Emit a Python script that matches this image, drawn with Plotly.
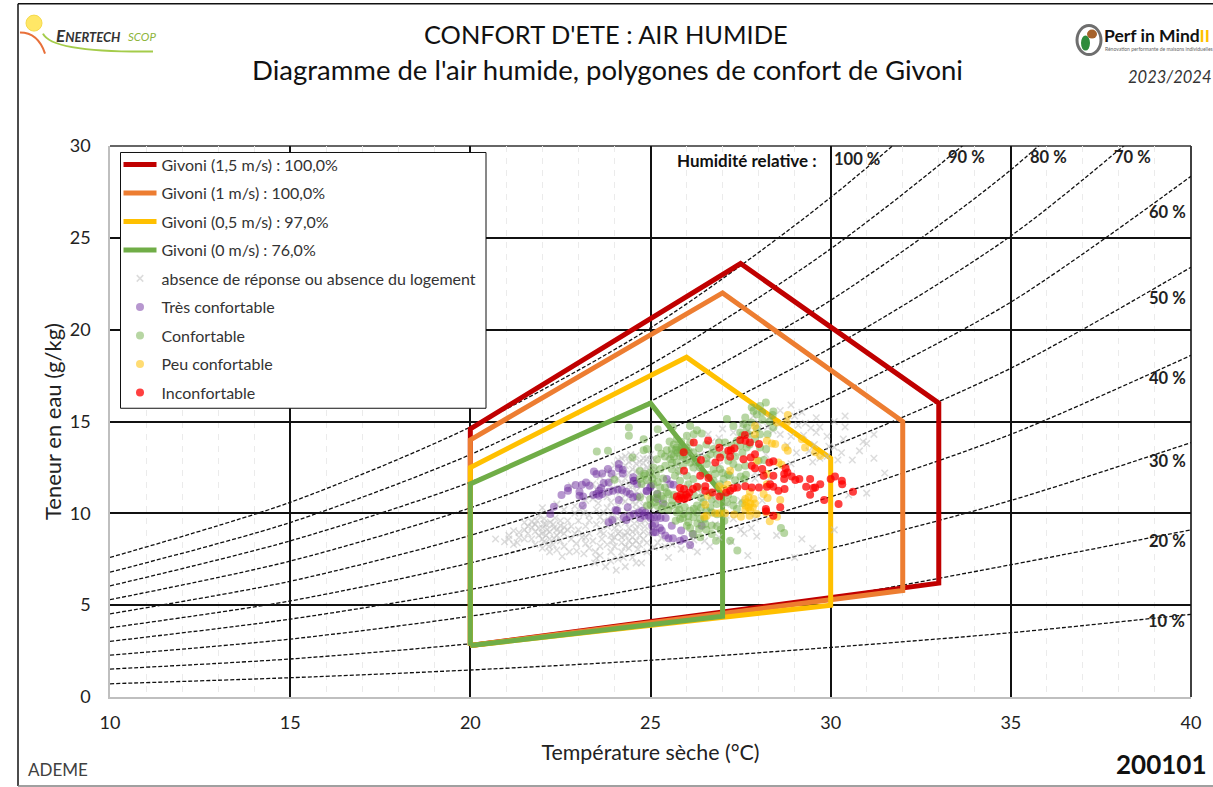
import plotly.graph_objects as go

# ---- data ----
T_NODES = [10, 15, 20, 25, 30, 35, 40]
RH_CURVES = {
    "100": [7.6, 10.6, 14.7, 20.1, 27.2, 35.9, 47.3],
    "90": [6.8, 9.5, 13.2, 18.1, 24.4, 32.3, 42.6],
    "80": [6.05, 8.5, 11.7, 16.1, 21.6, 28.7, 37.9],
    "70": [5.3, 7.4, 10.3, 14.1, 19.0, 25.1, 33.1],
    "60": [4.53, 6.3, 8.8, 12.1, 16.3, 21.5, 28.35],
    "50": [3.77, 5.23, 7.3, 10.0, 13.6, 17.9, 23.4],
    "40": [3.03, 4.24, 5.85, 8.0, 10.9, 14.3, 18.6],
    "30": [2.28, 3.15, 4.4, 6.0, 8.1, 10.7, 13.85],
    "20": [1.52, 2.07, 2.9, 4.0, 5.4, 7.2, 9.1],
    "10": [0.72, 1.05, 1.47, 2.0, 2.7, 3.5, 4.5],
}

GIVONI_15_T = [20, 33, 33, 27.5, 20, 20]
GIVONI_15_W = [2.8, 6.2, 16, 23.6, 14.6, 2.8]
GIVONI_10_T = [20, 32, 32, 27, 20, 20]
GIVONI_10_W = [2.8, 5.8, 15, 22, 14, 2.8]
GIVONI_05_T = [20, 30, 30, 26, 20, 20]
GIVONI_05_W = [2.8, 5, 13, 18.5, 12.5, 2.8]
GIVONI_00_T = [20, 27, 27, 25, 20, 20]
GIVONI_00_W = [2.8, 4.4, 11, 16, 11.6, 2.8]

GRAY = [(21.07,8.8),(21.07,8.6),(21.35,8.7),(21.35,8.96),(21.71,9.24),(21.85,9.6),(22.04,9.42),(22.22,9.51),(22.5,9.33),(22.6,9.24),
(21.99,8.9),(22.13,9.1),(22.32,9.2),(21.9,8.8),(22.04,8.45),(22.18,8.2),(22.32,8.64),(22.5,9),(22.75,7.9),(22.94,8.35),(23.2,8.35),
(23.15,7.8),(23.47,7.9),(23.5,7.55),(23.75,7.1),(24.05,6.9),(24.3,7.1),(23.45,7.3),(23.65,8.6),(23.95,8.5),(24.2,8.4),(24.35,8.95),
(24.15,9),(24.6,9.1),(24.85,9.3),(25.05,8.95),(24.5,8.7),(24.8,8.6),(24.4,8.1),(24.65,8.05),(24.5,7.6),(23.0,9.6),(23.3,9.9),(23.6,9.8),
(23.1,10.3),(23.8,9.3),(24.0,9.2),(24.1,7.5),(22.8,8.6),(22.4,8.0),(21.6,9.3),(22.7,9.6),(23.3,8.9),(23.6,9),(24.3,9.5),(23.9,9.9),
(25.2,8.4),(25.4,8.2),(25.5,7.6),(24.9,7.9),(24.75,7.3),(22.2,7.9),(21.9,9.9),(21.2,8.3),(20.7,8.6),
(24.0,12.6),(24.2,13),(24.4,12.8),(24.6,12.7),(24.8,13),(25,12.9),(24.2,12.3),(24.5,12.4),(24.7,12.2),(24.9,12.5),(24.3,11.9),(24.5,11.5),
(24.9,11.7),(23.8,12.3),(23.6,12),(23.4,11.6),(24,11.3),(23.7,11.1),(24.2,10.8),(24.5,10.6),(23.4,10.8),(23.9,10.6),(24.8,11),(24.6,10.2),
(22.8,11.5),(22.4,10.5),(22.0,10.3),(26.6,14.3),(26.7,13.9),(27,14.6),(26.9,14.1),(27.3,14.4),(28.9,15.9),(29.2,15.5),(29.6,15.2),(30.1,15.0),
(30.4,14.7),(29,15.3),(29.3,14.9),(29.6,14.4),(29.9,14.2),(30.1,13.6),(29.4,13.4),(29.7,13.0),(30.3,13.3),(30.6,12.9),(30.8,13.4),(31,13.8),
(31.2,13),(29.7,14.7),(29.1,14.8),(28.9,14.2),(29.5,12.8),(28.9,12.7),(26.6,12.9),(26.9,12.6),(27.2,12.3),(26.2,12.7),(25.8,12.2),(25.5,11.8),
(26,11.4),(26.4,11.1),(26.8,10.7),(27.1,10.5),(27.5,10.7),(27.9,9.7),(27.6,8.9),(27.5,9.1),(27.8,9.2),(26.9,8.7),(26.1,8.2),(26.3,7.9),(27.7,7.7),
(28.5,8.8),(29.2,8.6),(29.0,7.6),(29.5,8.1),(30.1,9.1),(31,11.1),(31.5,12.2),(30.5,11),(30.9,13.9),(31.2,14.3),(28.6,15.6),(28.3,15.2),(30.4,15.3),
(21.6,8.9),(21.7,8.6),(21.8,9),(21.8,9.4),(21.9,9.2),(22,8.6),(22,9.2),(22.1,8.8),(22.1,9.4),(22.2,8.6),(22.2,9.0),(22.3,9.4),(22.4,8.8),(22.4,9.1),
(22.5,8.5),(22.5,9.6),(22.6,8.9),(22.7,9.1),(21.5,8.6),(21.5,9.1),(21.3,8.4),(22.3,8.3),(22.6,8.2),(22.8,9.3),(22.9,8.9),(23.0,9.1),(23.1,8.7),(23.2,9.3),
(23.7,8.9),(23.8,8.3),(23.9,8.8),(24,8.2),(24,8.7),(24.1,8.9),(24.1,9.4),(24.2,8.7),(24.3,8.2),(24.3,8.8),(24.4,8.5),(24.4,9.2),(24.5,8.3),(24.5,9),
(24.6,8.5),(24.7,8.8),(24.7,8.3),(24.8,9.0),(24.9,8.4),(24.95,8.9),(24.2,7.9),(23.9,7.9),(23.6,8.2),(23.4,8.5),(23.2,8.7),(24.1,9.7),(24.0,9.6),
(24.55,9.45),(24.7,9.4),(24.85,9.6),(23.7,9.6),(23.5,9.4),(23.3,9.6),(23.15,10),(23.5,10.2),(23.8,10.3),(24.1,10.4),(24.35,10.1),(24.6,10.5),(24.8,10.4),(25,10.25),
(24.1,12.9),(24.3,12.6),(24.3,13.1),(24.4,12.2),(24.45,13.2),(24.5,12.9),(24.6,12.3),(24.6,13.15),(24.7,12.8),(24.8,12.4),(24.8,12.75),(24.9,12.95),
(24.95,12.2),(25.0,12.6),(25.0,13.2),(25.1,12.9),(25.15,12.4),(24.1,11.9),(24.2,11.6),(24.4,11.5),(24.6,11.2),(24.75,11.5),(23.9,11.9),(23.8,11.6),
(23.6,11.5),(24.0,12.0),(23.5,11.3),(26.3,12.4),(26.7,13.4),(27.0,13.6),(27.3,13.3),(27.7,14.5),(28.0,14.9),(28.4,14.5),(28.6,14.3),(28.8,13.7),
(28.2,13.2),(27.9,12.2),(27.4,11.5),(27.9,11.9),(28.3,11.9),(28.1,10.7),(27.3,9.7),(27.1,9.9),(26.8,9.4),(26.5,8.5),(30.2,12.9),(29.9,13.1),
(23.2,10.7),(22.9,10.4),(22.6,10.2),(22.9,10),(23.55,10.55),(23.8,10.9),(24.15,11.15),(24.4,11.1),(24.7,10.75),(24.3,10.65),(24.05,10.05),(23.7,10.05),
(22.35,9.75),(22.05,9.7),(21.7,9.55),(21.5,9.5),(21.2,9.05),(20.95,8.45),(21.8,8.3),(22.0,8.1),(22.55,7.65),(22.95,7.95),(23.3,8.1),(23.6,7.7),(23.9,7.4),
(24.25,7.6),(24.6,7.3),(25.1,8.15),(25.3,8.65),(25.6,8.3),(25.85,8.05),(26.2,8.55),(26.65,8.2),(27.25,8.45),(27.95,8.75),(25.5,13.1),(25.7,12.6),(26.1,13.3),
(26.4,13.2),(27.55,14.85),(27.85,15.3),(28.25,14.7),(28.55,14.85),(28.8,15.05),(29.45,14.65),(29.25,14.25),(29.55,13.75),(29.05,13.3),(29.95,13.65),(30.35,14.05)]

PURPLE = [(22.22,9.96),(22.32,10.36),(22.53,11.0),(22.71,11.23),(22.71,11.38),(22.92,11.54),(23.10,11.56),(23.21,11.68),(23.31,11.5),(23.03,11.18),
(23.03,10.96),(23.13,10.92),(23.12,10.43),(23.43,12.28),(23.50,12.14),(23.66,12.17),(23.82,12.41),(23.92,12.17),(24.12,12.68),(24.12,12.45),
(24.23,12.37),(24.23,12.17),(23.70,11.65),(23.84,11.68),(23.41,11.0),(23.50,11.05),(23.57,11.23),(23.63,11.38),(23.57,10.96),(23.66,11.05),
(23.84,11.18),(23.96,11.23),(24.09,11.3),(24.21,11.27),(24.33,11.18),(24.43,11.05),(24.52,10.87),(24.63,10.92),(24.12,10.72),(24.52,11.96),
(24.54,11.78),(24.63,11.6),(24.89,11.23),(25.02,11.5),(25.19,11.05),(25.19,10.78),(25.35,10.54),(23.94,9.64),(23.84,9.51),(24.03,10.18),
(24.07,10.14),(24.26,9.78),(24.37,10.33),(24.43,9.87),(24.33,9.64),(24.54,9.96),(24.68,10.05),(24.77,10.14),(24.86,10.05),(24.95,9.87),
(25.0,9.75),(25.09,9.78),(25.19,9.82),(25.28,9.75),(24.72,9.75),(24.82,9.87),(25.05,9.33),(25.14,8.97),(25.26,9.2),(25.42,9.75),
(25.41,8.79),(25.5,8.64),(25.62,8.64),(25.82,8.51),(25.93,8.6),(26.10,8.28),(25.59,9.33),(25.85,9.06),(26.17,8.88),(26.42,9.33),
(25.13,9.42),(25.08,8.97),(25.31,9.06),(25.55,11.59),(25.64,11.56),(25.45,11.87),(24.53,11.78),(24.9,11.2),(24.99,11.4)]

GREEN = [(24.40,14.67),(24.40,14.22),(23.51,13.37),(23.82,13.41),(24.5,13.04),(24.81,14.04),(24.81,13.44),(24.9,13.5),(25.2,14.58),(25.62,14.71),
(26.1,14.76),(26.29,14.53),(26.01,14.22),(26.2,14.31),(26.42,14.35),(25.73,14.04),(25.53,13.91),(25.22,13.59),(25.45,13.44),(25.59,13.5),
(25.59,13.22),(25.73,13.59),(25.87,13.68),(25.99,13.59),(25.87,13.41),(25.96,13.22),(25.82,13.13),(26.05,13.41),(26.19,13.32),(26.29,13.04),
(25.55,12.95),(25.73,12.77),(25.18,12.95),(25.08,12.5),(25.27,12.41),(24.99,12.23),(24.85,12.14),(24.71,11.87),(24.81,12.05),(25.41,12.59),
(25.59,12.41),(25.78,12.32),(26.01,12.05),(26.19,12.5),(26.1,12.77),(26.38,12.5),(26.56,12.68),(26.75,12.41),(26.93,12.41),(26.66,13.22),
(26.75,13.5),(27.07,13.86),(27.12,15.13),(27.63,15.22),(27.58,14.86),(27.67,14.67),(27.81,15.76),(27.86,15.58),(28.04,15.85),(28.2,16.03),
(28.41,15.54),(28.39,15.36),(28.04,14.31),(28.25,14.31),(28.41,14.67),(27.49,13.68),(27.72,14.31),(27.4,13.95),(27.49,14.4),(27.67,13.59),
(28.04,13.59),(28.21,13.5),(27.44,12.5),(27.63,12.59),(28,12.86),(27.3,12.68),(27.16,12.86),(27.03,11.87),(26.93,11.59),(26.75,11.78),
(25.27,11.41),(25.08,11.59),(25.18,11.05),(25.36,10.78),(25.5,11.05),(24.99,10.78),(25.13,10.6),(25.31,10.24),(25.59,10.42),(25.73,10.05),
(25.92,9.96),(26.1,10.14),(26.29,10.05),(25.82,9.69),(26.05,9.51),(26.19,9.78),(26.38,9.69),(26.52,9.42),(26.7,9.33),(26.29,10.42),
(26.47,10.6),(26.66,10.33),(26.84,10.51),(27.3,10.42),(27.4,10.24),(26.19,8.88),(26.38,8.7),(26.7,8.88),(26.82,8.51),(27.21,8.51),
(27.41,7.97),(28.62,9.2),(28.71,8.93),(26.66,11.14),(26.33,11.41),(26.05,11.59),(26.19,11.87),(25.82,11.78),(25.68,12.05),(27.12,10.6),
(24,11.83),(24.71,10.87),(24.9,10.42),(26.01,9.33),
(24.7,12.3),(24.75,11.6),(24.9,11.8),(25.05,11.9),(25.15,12.1),(25.2,11.7),(25.35,11.9),(25.4,11.4),(25.45,11.15),(25.3,10.95),(25.15,10.85),(25.0,10.45),
(25.2,10.4),(25.4,10.45),(25.5,10.2),(25.6,10.7),(25.65,11.0),(25.75,10.45),(25.8,10.2),(25.95,10.35),(26.05,9.85),(26.2,10.25),(26.4,10.3),(26.55,10.15),
(26.7,10.05),(26.85,9.95),(26.5,9.7),(26.3,9.45),(25.9,9.75),(25.7,9.6),(26.1,9.2),(26.35,9.15),(26.55,9.1),(26.85,9.3),(27.05,9.6),(26.95,9.1),
(25.6,12.75),(25.9,12.6),(26.0,12.9),(26.25,12.8),(26.45,12.2),(26.6,12.1),(26.8,12.15),(27.0,12.2),(27.15,12.1),(26.55,13.0),(26.85,13.2),(27.05,13.2),
(27.25,13.7),(26.9,13.85),(26.55,13.75),(26.35,13.55),(26.1,13.85),(25.85,13.9),(25.65,13.75),(25.95,13.5),(25.75,13.3),(25.65,13.1),(25.9,13.05),(25.4,13.1),
(25.3,13.25),(25.85,13.55),(25.8,13.45),(25.7,13.45),(27.35,13.1),(27.55,13.3),(27.75,13.75),(27.9,14.05),(27.95,14.6),(27.8,14.95),(27.55,14.25),(27.3,14.75),
(28.1,15.1),(28.3,15.0),(27.95,15.4),(28.1,15.5),(26.95,11.0),(27.15,11.0),(27.3,10.75),(27.55,10.55),(26.2,11.0),(26.4,10.85),(26.7,10.75),(25.9,11.0),
(27.5,12.0),(27.65,12.1),(27.2,12.05),(27.35,11.8),(27.6,11.85),(28.15,12.9)]

YELLOW = [(26.56,9.87),(26.49,9.82),(26.79,10),(26.91,10),(27.07,10),(27.32,9.93),(27.51,9.82),(27.75,9.87),(27.95,9.96),(27.63,10.78),
(27.72,10.87),(27.86,10.78),(27.67,10.6),(27.77,10.54),(27.9,10.54),(27.63,10.42),(27.72,10.33),(27.84,10.33),(27.63,10.18),(27.77,10.14),
(28.21,10.05),(28.31,9.57),(28.51,9.82),(26.52,10.47),(26.59,10.96),(27.21,12.32),(27.14,11.56),(27.03,11.32),(26.91,11.47),(27.76,11.18),
(28.23,11.59),(28.14,11.05),(28.25,10.83),(28.6,10.72),(27.9,14.76),(28.81,15.36),(28.78,14.95),(28.51,14.95),(28.23,13.95),(28.37,13.8),
(28.46,13.77),(28.74,13.59),(28.81,13.41),(27.90,14.31),(27.95,12.86),(28.55,12.77),(28.64,12.64),(28.23,12.14),(29.57,13.32),(29.71,13.13),
(29.29,13.59),(29.20,14.04)]

RED = [(25.92,13.33),(26.20,13.86),(26.60,13.97),(26.40,12.90),(25.93,12.32),(26.91,13.57),(27.16,13.41),(27.23,13.44),(27.33,13.55),(27.21,13.08),
(26.93,13.04),(26.80,12.77),(27.49,13.99),(27.62,14.26),(27.63,13.95),(27.76,13.86),(28.01,13.77),(27.90,13.22),(27.78,13.04),(27.58,12.95),
(27.81,12.59),(27.90,12.46),(28.10,12.41),(28.30,12.77),(28.41,12.83),(28.14,12.05),(28.41,12.05),(28.75,12.46),(28.80,12.23),(28.71,12.14),
(28.71,11.87),(28.92,12.01),(29.02,11.81),(29.13,11.87),(29.43,11.87),(29.32,11.45),(29.52,11.38),(29.57,11.41),(29.71,11.58),(29.43,11.01),
(29.82,10.72),(30.00,11.87),(30.12,12.01),(30.31,11.78),(30.32,11.59),(30.22,10.51),(30.62,11.18),(28.32,11.59),(28.41,11.45),(28.55,11.23),
(28.72,11.32),(28.23,11.45),(28.01,11.41),(27.81,11.41),(27.63,11.47),(27.41,11.41),(27.30,11.36),(27.21,11.23),(27.10,11.14),(26.91,10.91),
(26.72,11.14),(26.52,11.47),(26.52,11.23),(26.29,11.45),(26.18,11.32),(26.08,11.14),(25.93,11.32),(25.82,11.38),(25.73,10.91),(25.79,10.78),
(25.87,10.83),(25.94,10.78),(26.03,10.87),(25.84,11.01),(25.99,11.01),(26.61,11.92),(26.38,12.05),(28.20,10.24),(28.21,10.11),(28.60,10.33),(28.41,9.87)]

X_TICKS = [10, 15, 20, 25, 30, 35, 40]
Y_TICKS = [0, 5, 10, 15, 20, 25, 30]

FONT = "Lato"

# placement helpers: pixel of the 1213x787 page -> paper coordinates
L, R, TOP, BOT = 110, 1191, 145.5, 697
def xp(px): return (px - L) / (R - L)
def yp(py): return (BOT - py) / (BOT - TOP)

fig = go.Figure()

for name, vals in RH_CURVES.items():
    fig.add_trace(go.Scatter(x=T_NODES, y=vals, mode="lines", showlegend=False, hoverinfo="skip",
                             line=dict(color="#111111", width=1.3, dash="4px,2px", shape="spline", smoothing=0.8)))

def add_poly(tv, wv, color, name):
    fig.add_trace(go.Scatter(x=tv, y=wv, mode="lines", name=name, legendgroup=name,
                             line=dict(color=color, width=5)))

add_poly(GIVONI_15_T, GIVONI_15_W, "#C00000", "Givoni (1,5 m/s) : 100,0%")
add_poly(GIVONI_10_T, GIVONI_10_W, "#ED7D31", "Givoni (1 m/s) : 100,0%")
add_poly(GIVONI_05_T, GIVONI_05_W, "#FFC000", "Givoni (0,5 m/s) : 97,0%")
add_poly(GIVONI_00_T, GIVONI_00_W, "#70AD47", "Givoni (0 m/s) : 76,0%")

def add_pts(pts, color, name, symbol="circle", size=8, opacity=0.5):
    fig.add_trace(go.Scatter(x=[p[0] for p in pts], y=[p[1] for p in pts], mode="markers", name=name, legendgroup=name,
                             marker=dict(color=color, size=size, symbol=symbol, opacity=opacity, line=dict(width=0))))

add_pts(GRAY, "#BFBFBF", "absence de réponse ou absence du logement", symbol="x-thin-open", size=6.5, opacity=0.55)
fig.data[-1].marker.line = dict(color="#BFBFBF", width=1.5)
add_pts(PURPLE, "#7030A0", "Très confortable", opacity=0.5)
add_pts(GREEN, "#70AD47", "Confortable", opacity=0.5)
add_pts(YELLOW, "#FFC000", "Peu confortable", opacity=0.55)
add_pts(RED, "#FF0000", "Inconfortable", opacity=0.75)

def note(text, px, py, size, color="#111111", anchor="center", bold=False, italic=False, font=FONT):
    t = text
    if bold: t = f"<b>{t}</b>"
    if italic: t = f"<i>{t}</i>"
    return dict(text=t, x=xp(px), y=yp(py), xref="paper", yref="paper", showarrow=False,
                xanchor=anchor, yanchor="middle", font=dict(family=font, size=size, color=color))

ann = [
    note("CONFORT D'ETE : AIR HUMIDE", 606, 33, 25.4),
    note("Diagramme de l'air humide, polygones de confort de Givoni", 607, 69, 27.5),
    note("ADEME", 26, 770, 17, color="#404040", anchor="left"),
    note("200101", 1208, 764, 26, anchor="right", bold=True),
    note("2023/2024", 1213, 76, 16.5, color="#333333", anchor="right", italic=True),
    note("<span style='font-size:17px'>E</span>NERTECH", 54, 35, 13, color="#333333", anchor="left", bold=True, italic=True),
    note("SCOP", 126, 36, 11.5, color="#8DB53C", anchor="left", italic=True),
    note("Perf in Mind<span style='color:#FFC000'>II</span>", 1102, 35, 17.5, anchor="left", bold=True),
    note("Rénovation performante de maisons individuelles", 1103, 48, 5, color="#666666", anchor="left"),
    note("Humidité relative :", 819, 160, 17, anchor="right", bold=True),
]
for lab, px, py in [("100 %", 857, 159), ("90 %", 966, 157), ("80 %", 1048, 157), ("70 %", 1132, 157),
                    ("60 %", 1167, 212), ("50 %", 1167, 298), ("40 %", 1167, 378),
                    ("30 %", 1167, 461), ("20 %", 1167, 541), ("10 %", 1166, 621)]:
    ann.append(note(lab, px, py, 16.5, color="#222222", bold=True))

def line(x0, y0, x1, y1, color, w):
    return dict(type="line", xref="paper", yref="paper", x0=xp(x0), y0=yp(y0), x1=xp(x1), y1=yp(y1),
                line=dict(color=color, width=w), layer="below")

def curve(points, color, w):
    d = "M %.4f %.4f Q %.4f %.4f %.4f %.4f" % (xp(points[0][0]), yp(points[0][1]), xp(points[1][0]), yp(points[1][1]), xp(points[2][0]), yp(points[2][1]))
    return dict(type="path", xref="paper", yref="paper", path=d, line=dict(color=color, width=w), layer="below")

shapes = [
    line(18, 3, 18, 786, "#111111", 1.5),
    line(18, 3, 1213, 3, "#111111", 1.5),
    line(18, 786, 1213, 786, "#808080", 1.5),
    line(R, TOP, R, BOT, "#111111", 1.6),
    line(L, TOP, R, TOP, "#333333", 1.6),
    dict(type="rect", xref="paper", yref="paper", x0=xp(120.5), x1=xp(486), y0=yp(152), y1=yp(408),
         fillcolor="white", line=dict(color="#111111", width=1), layer="above"),
    dict(type="circle", xref="paper", yref="paper", x0=xp(26), x1=xp(42), y0=yp(14.5), y1=yp(30.5),
         fillcolor="#FFE766", line=dict(color="#F5D94A", width=1), layer="below"),
    curve([(20, 32), (38, 32), (45, 53)], "#E8703A", 2),
    curve([(43, 33), (52, 52), (153, 51)], "#A4CC4A", 2),
    dict(type="circle", xref="paper", yref="paper", x0=xp(1077), x1=xp(1101), y0=yp(25), y1=yp(54),
         fillcolor="#FFFFFF", line=dict(color="#6E6E6E", width=3), layer="below"),
    dict(type="circle", xref="paper", yref="paper", x0=xp(1081), x1=xp(1090), y0=yp(35), y1=yp(50),
         fillcolor="#2E8B3C", line=dict(width=0), layer="below"),
    dict(type="circle", xref="paper", yref="paper", x0=xp(1087), x1=xp(1097), y0=yp(29), y1=yp(38),
         fillcolor="#A5622C", line=dict(width=0), layer="below"),
]

fig.update_layout(
    width=1213, height=787, autosize=False,
    margin=dict(l=L, r=1213 - R, t=TOP, b=787 - BOT, pad=0),
    paper_bgcolor="white", plot_bgcolor="white",
    font=dict(family=FONT, color="#222222"),
    annotations=ann, shapes=shapes,
    legend=dict(x=xp(118.5), y=yp(147), xanchor="left", yanchor="top", bgcolor="rgba(0,0,0,0)",
                borderwidth=0, traceorder="grouped", tracegroupgap=4.7,
                itemwidth=33, itemsizing="trace", entrywidth=345,
                font=dict(family=FONT, size=16, color="#333333")),
    xaxis=dict(range=[10, 40], tickvals=X_TICKS, showgrid=True, gridcolor="#111111", gridwidth=1.6,
               zeroline=False, showline=True, linecolor="#BFBFBF", linewidth=1.5, mirror=False, ticks="",
               ticklabelstandoff=9, tickfont=dict(size=18, color="#222222"),
               minor=dict(dtick=1, showgrid=True, gridcolor="#EBEBEB", griddash="6px,6px", gridwidth=1.3, ticks=""),
               title=dict(text="Température sèche (°C)", font=dict(size=21.4, color="#222222"), standoff=13)),
    yaxis=dict(range=[0, 30], tickvals=Y_TICKS, showgrid=True, gridcolor="#111111", gridwidth=1.6,
               zeroline=False, showline=True, linecolor="#BFBFBF", linewidth=1.5, ticks="",
               ticklabelstandoff=14, tickfont=dict(size=18, color="#222222"),
               title=dict(text="Teneur en eau (g/kg)", font=dict(size=22, color="#222222"), standoff=2)),
)

fig.write_html("out.html", config=dict(displayModeBar=False), post_script="document.body.style.margin='0';")
